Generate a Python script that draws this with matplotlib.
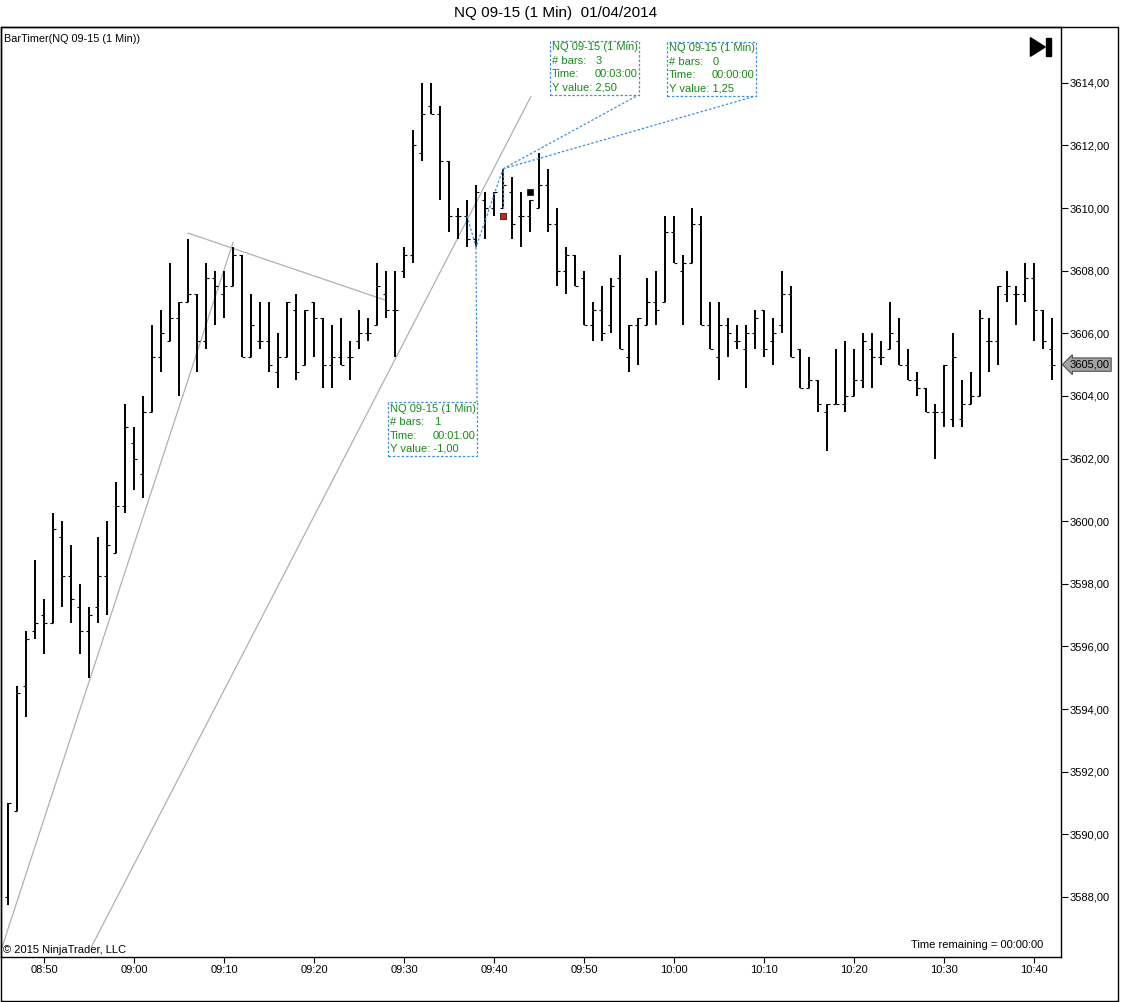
import matplotlib
matplotlib.use("Agg")
import matplotlib.pyplot as plt
import matplotlib.dates as mdates
from matplotlib.patches import Rectangle, Polygon
from matplotlib.ticker import FuncFormatter, MultipleLocator
import pandas as pd

plt.rcParams['font.family'] = ['Liberation Sans', 'DejaVu Sans']

# NQ 09-15, 1 minute bars from 08:46 to 10:42
start_time = '2014-01-04 08:46'
opens = [3588.0, 3590.75, 3594.75, 3596.5,
         3597.0, 3596.75, 3599.5, 3598.25, 3597.25, 3596.5, 3597.25, 3598.25, 3599.0, 3600.5,
         3602.5, 3601.5, 3603.5, 3605.25, 3605.75, 3606.5, 3607.0, 3607.25, 3605.75, 3607.75,
         3607.25, 3607.5, 3608.5, 3605.25, 3605.75, 3605.75, 3604.75, 3605.25, 3606.75, 3605.0,
         3607.0, 3606.5, 3605.0, 3605.25, 3605.25, 3605.75, 3606.0, 3606.25, 3607.25, 3606.75,
         3608.0, 3608.5, 3611.75, 3613.25, 3613.0, 3611.5, 3609.75, 3609.75, 3609.0, 3610.25,
         3610.0, 3610.0, 3610.5, 3609.75, 3609.75, 3610.0, 3610.75, 3609.5, 3608.0, 3608.5,
         3607.75, 3606.25, 3606.75, 3606.25, 3607.75, 3605.25, 3606.25, 3606.25, 3607.0, 3607.0,
         3609.25, 3608.0, 3608.25, 3609.5, 3606.25, 3605.25, 3606.25, 3605.75, 3605.5, 3606.0,
         3606.75, 3605.75, 3606.25, 3607.25, 3605.5, 3604.25, 3604.5, 3603.5, 3603.75, 3603.75,
         3604.0, 3604.5, 3605.5, 3605.25, 3605.5, 3605.75, 3605.0, 3604.5, 3604.25, 3603.5,
         3603.5, 3603.25, 3603.25, 3603.75, 3604.0, 3605.75, 3605.75, 3607.25, 3607.25, 3607.25,
         3607.75, 3606.75, 3605.5]
highs = [3591.0, 3594.75, 3596.5, 3598.75,
         3597.5, 3600.25, 3600.0, 3599.25, 3598.0, 3597.25, 3599.5, 3600.0, 3601.25, 3603.75,
         3603.0, 3604.0, 3606.25, 3606.75, 3608.25, 3607.0, 3609.0, 3607.25, 3608.25, 3608.0,
         3608.0, 3608.75, 3608.5, 3607.25, 3607.0, 3607.0, 3606.0, 3607.0, 3607.25, 3606.75,
         3607.0, 3606.5, 3606.25, 3606.5, 3605.75, 3606.75, 3606.5, 3608.25, 3608.0, 3608.0,
         3608.75, 3612.5, 3614.0, 3614.0, 3613.25, 3611.5, 3610.0, 3610.25, 3610.75, 3610.5,
         3610.5, 3611.25, 3611.0, 3610.5, 3610.25, 3611.75, 3611.25, 3610.0, 3608.75, 3608.5,
         3608.0, 3607.0, 3607.5, 3607.75, 3608.5, 3606.25, 3606.5, 3607.75, 3608.0, 3609.75,
         3609.75, 3608.5, 3610.0, 3609.75, 3607.0, 3607.0, 3606.5, 3606.25, 3606.25, 3606.75,
         3606.75, 3606.5, 3608.0, 3607.5, 3605.5, 3605.25, 3604.5, 3603.75, 3605.5, 3605.75,
         3605.5, 3606.0, 3606.0, 3605.75, 3607.0, 3606.5, 3605.5, 3604.75, 3604.25, 3603.75,
         3605.0, 3606.0, 3604.5, 3604.75, 3606.75, 3606.5, 3607.5, 3608.0, 3607.5, 3608.25,
         3608.25, 3606.75, 3606.5]
lows = [3587.75, 3590.75, 3593.75, 3596.25,
        3595.75, 3596.75, 3597.25, 3596.75, 3595.75, 3595.0, 3596.75, 3597.0, 3599.0, 3600.25,
        3601.0, 3600.75, 3603.5, 3604.75, 3605.75, 3604.0, 3607.0, 3604.75, 3605.5, 3606.25,
        3606.5, 3607.5, 3605.25, 3605.25, 3605.5, 3604.75, 3604.25, 3605.25, 3604.5, 3605.0,
        3605.25, 3604.25, 3604.25, 3605.0, 3604.5, 3605.5, 3605.75, 3606.25, 3606.5, 3605.25,
        3607.75, 3608.25, 3611.5, 3613.0, 3610.25, 3609.25, 3609.0, 3608.75, 3608.75, 3609.0,
        3609.75, 3610.0, 3609.0, 3608.75, 3609.25, 3610.0, 3609.25, 3607.5, 3607.25, 3607.5,
        3606.25, 3605.75, 3605.75, 3606.0, 3605.5, 3604.75, 3605.0, 3606.25, 3606.25, 3607.0,
        3608.25, 3606.25, 3608.25, 3606.25, 3605.5, 3604.5, 3605.25, 3605.5, 3604.25, 3605.5,
        3605.25, 3605.0, 3606.0, 3605.25, 3604.25, 3604.25, 3603.5, 3602.25, 3603.75, 3603.5,
        3604.0, 3604.25, 3604.25, 3605.0, 3605.5, 3605.0, 3604.5, 3604.0, 3603.5, 3602.0,
        3603.0, 3603.0, 3603.0, 3603.75, 3604.0, 3604.75, 3605.0, 3607.0, 3606.25, 3607.0,
        3605.75, 3605.5, 3604.5]
closes = [3591.0, 3594.5, 3596.25, 3596.75,
          3596.75, 3599.75, 3598.25, 3597.5, 3596.5, 3597.0, 3598.25, 3599.25, 3600.5, 3603.0,
          3602.0, 3603.5, 3605.25, 3606.0, 3606.5, 3607.0, 3607.25, 3605.75, 3607.75, 3607.5,
          3607.5, 3608.5, 3605.25, 3606.25, 3605.75, 3605.0, 3605.25, 3607.0, 3604.75, 3606.75,
          3606.5, 3605.0, 3605.25, 3605.0, 3605.25, 3606.0, 3606.0, 3607.5, 3606.75, 3606.75,
          3608.5, 3612.0, 3613.0, 3613.0, 3611.5, 3609.75, 3609.75, 3609.0, 3610.5, 3610.0,
          3610.5, 3610.75, 3609.5, 3609.75, 3610.25, 3610.75, 3609.5, 3608.0, 3608.5, 3607.5,
          3606.25, 3606.75, 3606.0, 3607.5, 3605.5, 3606.25, 3606.5, 3607.0, 3606.75, 3609.25,
          3608.25, 3608.25, 3609.5, 3606.25, 3605.5, 3606.25, 3606.0, 3605.75, 3606.0, 3606.5,
          3605.5, 3606.0, 3607.25, 3605.25, 3604.25, 3604.5, 3603.75, 3603.75, 3603.75, 3604.0,
          3604.5, 3605.75, 3605.25, 3605.25, 3606.0, 3605.0, 3604.5, 3604.25, 3603.5, 3603.5,
          3605.0, 3605.25, 3603.75, 3604.0, 3606.5, 3605.75, 3607.5, 3607.5, 3607.25, 3607.75,
          3606.75, 3605.75, 3605.0]

# drawn trend lines (time, price) pairs
trend_lines = [
    [('08:45:20', 3586.4), ('09:11:00', 3608.9)],
    [('09:06:00', 3609.2), ('09:28:00', 3607.05)],
    [('08:55:15', 3586.4), ('09:44:05', 3613.55)],
]
# ruler drawings
ruler_path = [('09:37', 3609.75), ('09:38', 3608.75), ('09:41', 3611.25)]
ruler_vert = [('09:41', 3610.0), ('09:41', 3611.25)]
box_topleft = [('09:28:13', 3603.8), ('09:46:13', 3615.34), ('09:59:13', 3615.3)]
box_bars = ['1', '3', '0']
box_times = ['00:01:00', '00:03:00', '00:00:00']
box_yvals = ['-1,00', '2,50', '1,25']
markers = [('09:41', 3609.75, '#d81e1e'), ('09:44', 3610.5, '#000000')]
last_price = 3605.0

day = '2014-01-04 '
def tn(s):
    return mdates.date2num(pd.Timestamp(day + s))

times = pd.date_range(start_time, periods=len(opens), freq='min')
x = mdates.date2num(times)
one_min = 1.0 / 1440

W, H = 1121, 1002
fig = plt.figure(figsize=(W / 100, H / 100), dpi=100)
ax = fig.add_axes([1 / W, 45.5 / H, 1059.5 / W, 929.5 / H])

# OHLC bars
d = one_min * 2.8 / 9
ax.vlines(x, lows, highs, color='black', lw=1.4)
ax.hlines(opens, x - d, x, color='black', lw=0.8)
ax.hlines(closes, x, x + d, color='black', lw=0.8)

for p0, p1 in trend_lines:
    ax.plot([tn(p0[0]), tn(p1[0])], [p0[1], p1[1]], color='#b0b0b0', lw=0.9, zorder=1)

blue = '#3d8fe0'
dash = (0, (2, 1.5))
ax.plot([tn(t) for t, _ in ruler_path], [p for _, p in ruler_path], color=blue, lw=0.9, ls=dash)
ax.plot([tn(t) for t, _ in ruler_vert], [p for _, p in ruler_vert], color=blue, lw=0.9, ls=dash)

box_w = 9.9 * one_min
box_h = 1.72
green = '#1a8a1a'
end_pts = [ruler_path[1], ruler_path[2], ruler_path[2]]
for i, (t, p) in enumerate(box_topleft):
    bx, by = tn(t), p
    ax.add_patch(Rectangle((bx, by - box_h), box_w, box_h, fill=True, fc='white',
                           ec=blue, lw=0.9, ls=dash, zorder=3))
    ex, ey = tn(end_pts[i][0]), end_pts[i][1]
    if i == 0:
        ax.plot([ex, bx + box_w], [ey, by], color=blue, lw=0.9, ls=dash)
    else:
        ax.plot([ex, bx + box_w], [ey, by - box_h], color=blue, lw=0.9, ls=dash)
    lab = ['NQ 09-15 (1 Min)', '# bars:', 'Time:', 'Y value: ' + box_yvals[i]]
    for j, s in enumerate(lab):
        ax.annotate(s, (bx, by), xytext=(1.2, -1 - 9.7 * j), textcoords='offset points',
                    ha='left', va='top', fontsize=8, color=green, zorder=4)
    ax.annotate(box_bars[i], (bx, by), xytext=(33, -1 - 9.7), textcoords='offset points',
                ha='left', va='top', fontsize=8, color=green, zorder=4)
    ax.annotate(box_times[i], (bx, by), xytext=(32, -1 - 9.7 * 2), textcoords='offset points',
                ha='left', va='top', fontsize=8, color=green, zorder=4)

for t, p, c in markers:
    ax.plot(tn(t), p, marker='s', ms=5, mfc=c, mec='#202020', mew=0.6, zorder=5)

ax.set_xlim(tn('08:45:13'), tn('10:42:57'))
ax.set_ylim(3586.1, 3615.78)

ax.yaxis.tick_right()
ax.yaxis.set_major_locator(MultipleLocator(2))
ax.yaxis.set_major_formatter(FuncFormatter(lambda v, pos: f'{v:.2f}'.replace('.', ',')))
ax.xaxis.set_major_locator(mdates.MinuteLocator(byminute=range(0, 60, 10)))
ax.xaxis.set_major_formatter(mdates.DateFormatter('%H:%M'))
ax.tick_params(axis='y', length=5, width=0.8, labelsize=8, pad=1.5)
ax.tick_params(axis='x', length=4.5, width=0.8, labelsize=8, pad=1.5)
for sp in ax.spines.values():
    sp.set_linewidth(1.0)

ax.annotate(f'{last_price:.2f}'.replace('.', ','), xy=(1, last_price),
            xycoords=('axes fraction', 'data'), xytext=(6.5, 0), textcoords='offset points',
            ha='left', va='center', fontsize=8, annotation_clip=False,
            bbox=dict(boxstyle='larrow,pad=0.15', fc='#a3a3a3', ec='#404040', lw=0.7))

ax.text(3 / 1059.5, 0.987, 'BarTimer(NQ 09-15 (1 Min))', transform=ax.transAxes,
        ha='left', va='center', fontsize=7.8)
ax.text(2 / 1059.5, 0.007, '\u00a9 2015 NinjaTrader, LLC', transform=ax.transAxes,
        ha='left', va='center', fontsize=8)
ax.text(1042 / 1059.5, 0.0125, 'Time remaining = 00:00:00', transform=ax.transAxes,
        ha='right', va='center', fontsize=8)

# skip-to-end icon
ax.add_patch(Polygon([[0.9716, 0.9885], [0.9716, 0.9685], [0.9855, 0.9785]],
                     closed=True, transform=ax.transAxes, color='black', clip_on=False))
ax.add_patch(Rectangle((0.9867, 0.9685), 0.0042, 0.02, transform=ax.transAxes,
                       color='black', clip_on=False))

fig.text(556 / W, 1 - 12.5 / H, 'NQ 09-15 (1 Min)  01/04/2014', ha='center', va='center',
         fontsize=11)
fig.add_artist(Rectangle((1 / W, 1 / H), 1117 / W, 974 / H, transform=fig.transFigure,
                         fill=False, ec='black', lw=1.0))

fig.savefig('out.png', dpi=100)
